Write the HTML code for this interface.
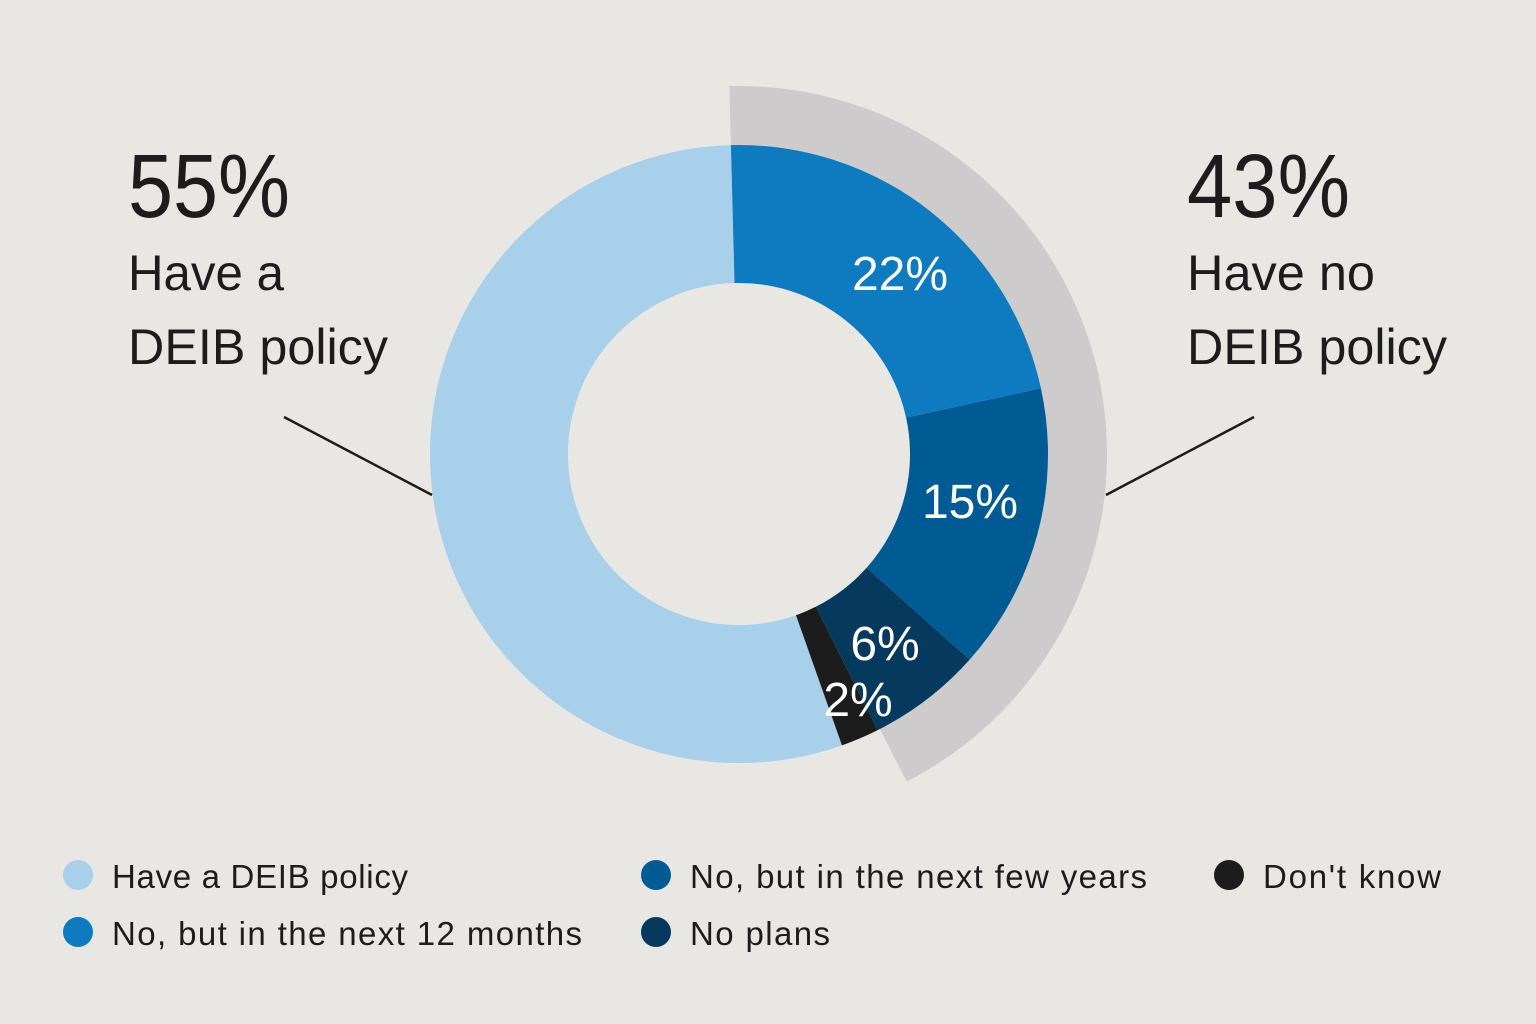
<!DOCTYPE html>
<html><head><meta charset="utf-8"><style>
html,body{margin:0;padding:0;background:#e8e7e3;}
svg{display:block;font-family:"Liberation Sans",sans-serif;}
</style></head><body>
<svg width="1536" height="1024" viewBox="0 0 1536 1024">
<rect width="1536" height="1024" fill="#e8e7e3"/>
<g transform="translate(739,454) rotate(-91.5)">
<circle r="338.5" fill="none" stroke="#cdcbcb" stroke-width="59" stroke-dasharray="912 3000" stroke-dashoffset="0"/>
<circle r="240" fill="none" stroke="#a8d0ea" stroke-width="138" stroke-dasharray="829.38 3000" stroke-dashoffset="-678.58"/>
<circle r="240" fill="none" stroke="#0e7ac0" stroke-width="138" stroke-dasharray="331.75 3000" stroke-dashoffset="0"/>
<circle r="240" fill="none" stroke="#005b94" stroke-width="138" stroke-dasharray="226.19 3000" stroke-dashoffset="-331.75"/>
<circle r="240" fill="none" stroke="#053a5e" stroke-width="138" stroke-dasharray="90.48 3000" stroke-dashoffset="-557.94"/>
<circle r="240" fill="none" stroke="#1c1c1c" stroke-width="138" stroke-dasharray="30.16 3000" stroke-dashoffset="-648.42"/>
</g>
<line x1="284" y1="417" x2="432" y2="495" stroke="#1c1c1c" stroke-width="2.5"/>
<line x1="1106" y1="495" x2="1254" y2="417" stroke="#1c1c1c" stroke-width="2.5"/>
<g fill="#fff" font-size="48" text-anchor="middle">
<text x="900" y="290">22%</text>
<text x="970" y="518">15%</text>
<text x="885" y="660">6%</text>
<text x="858" y="716">2%</text>
</g>
<g fill="#1c1c1c">
<text x="128" y="217" font-size="90" textLength="162" lengthAdjust="spacingAndGlyphs">55%</text>
<text x="128" y="290" font-size="50" textLength="156" lengthAdjust="spacingAndGlyphs">Have a</text>
<text x="128" y="364" font-size="50" textLength="260" lengthAdjust="spacingAndGlyphs">DEIB policy</text>
<text x="1187" y="217" font-size="90" textLength="163" lengthAdjust="spacingAndGlyphs">43%</text>
<text x="1187" y="290" font-size="50" textLength="188" lengthAdjust="spacingAndGlyphs">Have no</text>
<text x="1187" y="364" font-size="50" textLength="260" lengthAdjust="spacingAndGlyphs">DEIB policy</text>
</g>
<g font-size="33" fill="#1c1c1c">
<circle cx="78" cy="875" r="15" fill="#a8d0ea"/>
<text x="112" y="888" textLength="296">Have a DEIB policy</text>
<circle cx="78" cy="932" r="15" fill="#0e7ac0"/>
<text x="112" y="945" textLength="470">No, but in the next 12 months</text>
<circle cx="656" cy="875" r="15" fill="#005b94"/>
<text x="690" y="888" textLength="457">No, but in the next few years</text>
<circle cx="656" cy="932" r="15" fill="#053a5e"/>
<text x="690" y="945" textLength="140">No plans</text>
<circle cx="1229" cy="875" r="15" fill="#1c1c1c"/>
<text x="1263" y="888" textLength="178">Don't know</text>
</g>
</svg>
</body></html>
